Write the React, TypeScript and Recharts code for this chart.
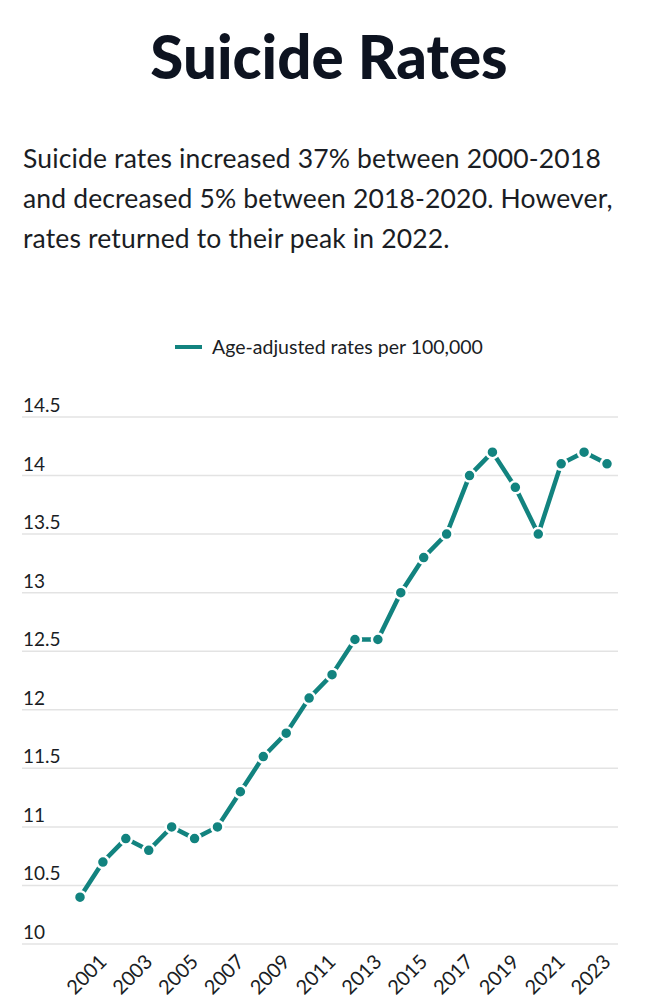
import React from "react";
import { LineChart, Line, XAxis, YAxis, CartesianGrid, Legend } from "recharts";

const years = [2000, 2001, 2002, 2003, 2004, 2005, 2006, 2007, 2008, 2009, 2010, 2011, 2012, 2013, 2014, 2015, 2016, 2017, 2018, 2019, 2020, 2021, 2022, 2023];
const rates = [10.4, 10.7, 10.9, 10.8, 11.0, 10.9, 11.0, 11.3, 11.6, 11.8, 12.1, 12.3, 12.6, 12.6, 13.0, 13.3, 13.5, 14.0, 14.2, 13.9, 13.5, 14.1, 14.2, 14.1];
const xTicks = [2001, 2003, 2005, 2007, 2009, 2011, 2013, 2015, 2017, 2019, 2021, 2023];
const yTicks = [10, 10.5, 11, 11.5, 12, 12.5, 13, 13.5, 14, 14.5];
const seriesName = "Age-adjusted rates per 100,000";

const data = years.map((y, i) => ({ year: y, rate: rates[i] }));

const COLOR = "#12837f";
const FONT = "Lato, 'Open Sans', sans-serif";
const TEXT = "#1a1d24";

const YTick = (props: any) => {
  const { y, payload } = props;
  return (
    <text x={23} y={y - 5} fill={TEXT} fontSize={19} fontFamily={FONT} textAnchor="start">
      {String(payload.value)}
    </text>
  );
};

const XTick = (props: any) => {
  const { x, y, payload } = props;
  return (
    <g transform={`translate(${x + 5},${y + 11})`}>
      <text x={0} y={0} fill={TEXT} fontSize={20} fontFamily={FONT} textAnchor="end" transform="rotate(-45)">
        {String(payload.value)}
      </text>
    </g>
  );
};

const LegendContent = () => (
  <div style={{ display: "flex", justifyContent: "center", alignItems: "center", fontFamily: FONT, fontSize: 19.5, color: TEXT }}>
    <div style={{ width: 27, height: 4, background: COLOR, marginRight: 10 }} />
    <span>{seriesName}</span>
  </div>
);

export default function App() {
  return (
    <div style={{ position: "absolute", left: 0, top: 0, width: 658, height: 1000, background: "#fff" }}>
      <div style={{ position: "absolute", top: 21, left: 0, width: 658, textAlign: "center", fontFamily: FONT, fontWeight: 900, fontSize: 60, color: "#0d1320", lineHeight: "70px" }}>
        Suicide Rates
      </div>
      <div style={{ position: "absolute", top: 138, left: 23, width: 635, fontFamily: FONT, fontSize: 26.5, letterSpacing: 0.15, color: TEXT, lineHeight: "40px", whiteSpace: "nowrap" }}>
        Suicide rates increased 37% between 2000-2018
        <br />
        and decreased 5% between 2018-2020. However,
        <br />
        rates returned to their peak in 2022.
      </div>
      <div style={{ position: "absolute", top: 300, left: 0 }}>
        <LineChart width={658} height={700} data={data} margin={{ top: 94, right: 40, bottom: 0, left: 0 }}>
          <CartesianGrid vertical={false} stroke="#e3e3e3" strokeWidth={1.5} />
          <Legend verticalAlign="top" align="center" content={<LegendContent />} wrapperStyle={{ top: 35, left: 0, width: 658 }} />
          <XAxis
            dataKey="year"
            type="number"
            domain={[2000, 2023]}
            ticks={xTicks}
            padding={{ left: 58, right: 11 }}
            axisLine={false}
            tickLine={false}
            height={56}
            tick={<XTick />}
            interval={0}
          />
          <YAxis
            domain={[10, 14.5]}
            ticks={yTicks}
            width={22}
            axisLine={false}
            tickLine={false}
            tick={<YTick />}
            interval={0}
          />
          <Line
            type="linear"
            dataKey="rate"
            name={seriesName}
            stroke={COLOR}
            strokeWidth={4.5}
            dot={{ r: 6, fill: COLOR, stroke: "#fff", strokeWidth: 2.5 }}
            activeDot={false}
            isAnimationActive={false}
          />
        </LineChart>
      </div>
    </div>
  );
}
